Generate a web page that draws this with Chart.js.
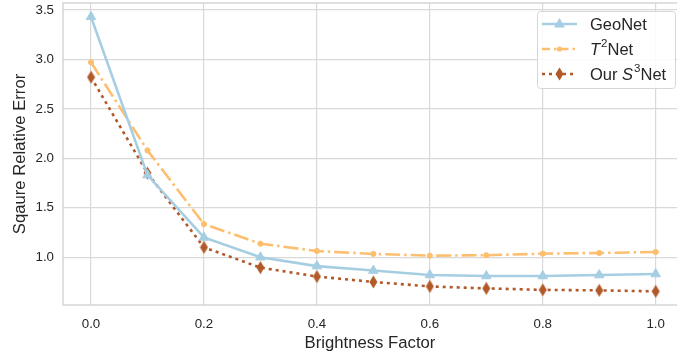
<!DOCTYPE html>
<html>
<head>
<meta charset="utf-8">
<script src="https://cdn.jsdelivr.net/npm/chart.js@4"></script>
<style>
  html, body { margin: 0; padding: 0; background: #fff; overflow: hidden; }
  canvas { display: block; }
</style>
</head>
<body>
<canvas id="myChart" width="677" height="353"></canvas>
<script>
const factors = [0.0, 0.1, 0.2, 0.3, 0.4, 0.5, 0.6, 0.7, 0.8, 0.9, 1.0];
const geoNet = [3.43, 1.83, 1.20, 1.00, 0.91, 0.865, 0.82, 0.81, 0.81, 0.82, 0.83];
const t2Net = [2.97, 2.08, 1.335, 1.137, 1.063, 1.033, 1.016, 1.02, 1.036, 1.043, 1.053];
const s3Net = [2.82, 1.85, 1.10, 0.895, 0.805, 0.75, 0.705, 0.685, 0.67, 0.665, 0.655];
const xTicks = [0.0, 0.2, 0.4, 0.6, 0.8, 1.0];
const yTicks = [1.0, 1.5, 2.0, 2.5, 3.0, 3.5];

const FONT = "'Liberation Sans', Arial, sans-serif";
const TEXT = '#262626';
const GRID = '#d9d9d9';

// thin diamond marker like matplotlib 'd'
const diamond = document.createElement('canvas');
diamond.width = 9;
diamond.height = 14;
(function () {
    const c = diamond.getContext('2d');
    c.fillStyle = '#b15928';
    c.beginPath();
    c.moveTo(4.5, 0.5);
    c.lineTo(8.5, 7);
    c.lineTo(4.5, 13.5);
    c.lineTo(0.5, 7);
    c.closePath();
    c.fill();
})();

const toPoints = (ys) => factors.map((x, i) => ({ x: x, y: ys[i] }));

const series = [
    { label: 'GeoNet', data: geoNet, color: '#a6cee3', dash: [], point: 'triangle', radius: 5.5 },
    { label: 'T2Net', data: t2Net, color: '#fdbf6f', dash: [15, 4, 2.5, 4], point: 'circle', radius: 2.6 },
    { label: 'S3Net', data: s3Net, color: '#b15928', dash: [3, 4], point: diamond, radius: 6 },
];

const data = {
    datasets: series.map(s => ({
        label: s.label,
        data: toPoints(s.data),
        borderColor: s.color,
        backgroundColor: s.color,
        borderWidth: 2.6,
        borderDash: s.dash,
        borderCapStyle: 'butt',
        pointStyle: s.point,
        pointRadius: s.radius,
        pointBorderWidth: 1,
        tension: 0,
    })),
};

// frame around the plot area
const framePlugin = {
    id: 'frame',
    beforeDatasetsDraw(chart) {
        const { ctx, chartArea: a } = chart;
        ctx.save();
        ctx.strokeStyle = '#cccccc';
        ctx.lineWidth = 1.2;
        ctx.strokeRect(a.left, a.top, a.right - a.left + 5, a.bottom - a.top);
        ctx.restore();
    },
};

// legend with italic letters and superscripts
const legendPlugin = {
    id: 'mplLegend',
    afterDraw(chart) {
        const ctx = chart.ctx;
        const box = { x: 537.5, y: 11.5, w: 138, h: 77 };
        ctx.save();
        ctx.fillStyle = 'rgba(255,255,255,0.85)';
        ctx.strokeStyle = '#d6d6d6';
        ctx.lineWidth = 1;
        ctx.beginPath();
        ctx.roundRect(box.x, box.y, box.w, box.h, 3);
        ctx.fill();
        ctx.stroke();

        const rows = [
            [['GeoNet', 'n']],
            [['T', 'i'], ['2', 's'], ['Net', 'n']],
            [['Our ', 'n'], ['S', 'i'], ['3', 's'], ['Net', 'n']],
        ];
        rows.forEach((parts, i) => {
            const y = 24 + i * 25;
            const s = series[i];
            ctx.strokeStyle = s.color;
            ctx.lineWidth = 2.6;
            ctx.setLineDash(i === 1 ? [8, 4, 2.5, 4] : s.dash);
            ctx.beginPath();
            ctx.moveTo(542, y);
            ctx.lineTo(577, y);
            ctx.stroke();
            ctx.setLineDash([]);
            ctx.fillStyle = s.color;
            if (i === 0) {
                ctx.beginPath();
                ctx.moveTo(559.5, y - 6);
                ctx.lineTo(565, y + 3.5);
                ctx.lineTo(554, y + 3.5);
                ctx.closePath();
                ctx.fill();
            } else if (i === 1) {
                ctx.beginPath();
                ctx.arc(559.5, y, 2.6, 0, Math.PI * 2);
                ctx.fill();
            } else {
                ctx.drawImage(diamond, 555, y - 7);
            }
            let x = 590;
            ctx.fillStyle = TEXT;
            ctx.textBaseline = 'middle';
            ctx.textAlign = 'left';
            parts.forEach(([t, kind]) => {
                if (kind === 's') {
                    ctx.font = `11.5px ${FONT}`;
                    ctx.fillText(t, x + 1, y - 5);
                    x += ctx.measureText(t).width + 1;
                } else {
                    ctx.font = (kind === 'i' ? 'italic ' : '') + `16.5px ${FONT}`;
                    ctx.fillText(t, x, y + 1);
                    x += ctx.measureText(t).width;
                }
            });
        });
        ctx.restore();
    },
};

const config = {
    type: 'line',
    data: data,
    options: {
        responsive: false,
        animation: false,
        layout: { autoPadding: false, padding: { top: 3, right: 0, left: 0, bottom: 0 } },
        plugins: {
            legend: { display: false },
            tooltip: { enabled: false },
        },
        scales: {
            x: {
                type: 'linear',
                min: -0.0496,
                max: 1.0377,
                afterBuildTicks: (scale) => { scale.ticks = xTicks.map(v => ({ value: v })); },
                afterFit: (scale) => {
                    scale.height = 48;
                    scale.paddingLeft = 0;
                    scale.paddingRight = 0;
                },
                grid: { color: GRID, lineWidth: 1.2, drawTicks: false },
                border: { display: false },
                ticks: {
                    padding: 11,
                    color: TEXT,
                    font: { family: FONT, size: 13.3 },
                    callback: (v) => Number(v).toFixed(1),
                },
                title: {
                    display: true,
                    text: 'Brightness Factor',
                    color: TEXT,
                    font: { family: FONT, size: 16.7 },
                    padding: { top: 0, bottom: 0 },
                },
            },
            y: {
                min: 0.517,
                max: 3.57,
                afterBuildTicks: (scale) => { scale.ticks = yTicks.map(v => ({ value: v })); },
                afterFit: (scale) => {
                    scale.width = 63;
                    scale.paddingTop = 0;
                    scale.paddingBottom = 0;
                },
                grid: { color: GRID, lineWidth: 1.2, drawTicks: false },
                border: { display: false },
                ticks: {
                    padding: 9,
                    color: TEXT,
                    font: { family: FONT, size: 13.3 },
                    callback: (v) => Number(v).toFixed(1),
                },
                title: {
                    display: true,
                    text: 'Sqaure Relative Error',
                    color: TEXT,
                    font: { family: FONT, size: 16.7 },
                    padding: { top: 10, bottom: 0 },
                },
            },
        },
    },
    plugins: [framePlugin, legendPlugin],
};

const ctx = document.getElementById('myChart').getContext('2d');
const myChart = new Chart(ctx, config);
</script>
</body>
</html>
